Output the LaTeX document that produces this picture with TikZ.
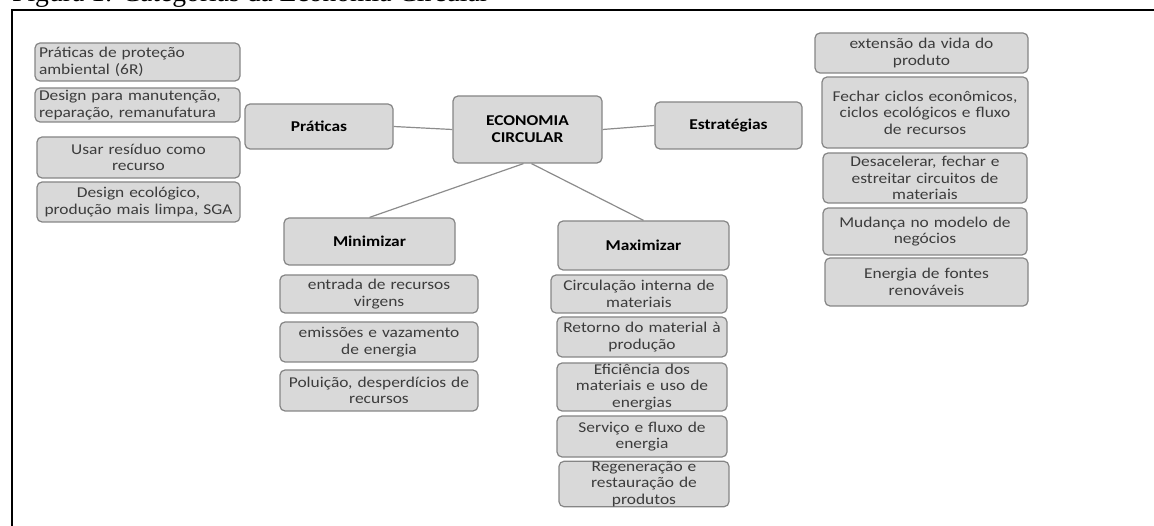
\documentclass[tikz,border=0pt]{standalone}
\usepackage{fontspec}
\setmainfont{Carlito}[FakeStretch=1.16]
\newfontfamily\capfont{Liberation Serif}
\definecolor{boxfill}{HTML}{D9D9D9}
\definecolor{boxline}{HTML}{858585}
\definecolor{linkgray}{HTML}{8C8C8C}
\definecolor{txtgray}{HTML}{3C3C3C}
\tikzset{
  cbox/.style={draw=boxline, fill=boxfill, rounded corners=5pt, line width=1.2pt, inner sep=0pt, align=center, text=txtgray, font=\fontsize{15}{16.5}\selectfont},
  hbox/.style={cbox, text=black, font=\bfseries\fontsize{15}{17}\selectfont},
  link/.style={draw=linkgray, line width=1.2pt},
}
\begin{document}
\begin{tikzpicture}[x=1pt,y=-1pt]
\useasboundingbox (0,0) rectangle (1154,526);
%caption, cut at the top
\node[anchor=base west, inner sep=0pt, font=\capfont\fontsize{27.6}{30}\selectfont] (cap) at (12,1.5) {Figura 1: Categorias da Economia Circular};
\draw[line width=2pt] (12,526) -- (12,10.5) -- (1154,10.5);

%centre and branches
\node[hbox, minimum width=149pt, minimum height=67pt] (ec) at (527.5,129.5) {ECONOMIA\\CIRCULAR};
\node[hbox, minimum width=148pt, minimum height=45pt] (prat) at (319,126.5) {Práticas};
\node[hbox, minimum width=147pt, minimum height=47pt] (estr) at (728.5,125.5) {Estratégias};
\node[hbox, minimum width=171pt, minimum height=47pt] (mini) at (369.5,241.5) {Minimizar};
\node[hbox, minimum width=171pt, minimum height=49pt] (maxi) at (643.5,245.5) {Maximizar};

%Práticas
\node[cbox, minimum width=205pt, minimum height=38pt, text width=197pt, align=left] (pr1) at (137.5,62) {Práticas de proteção\\ambiental (6R)};
\node[cbox, minimum width=205pt, minimum height=34pt, text width=197pt, align=left] (pr2) at (137.5,105) {Design para manutenção,\\reparação, remanufatura};
\node[cbox, minimum width=203pt, minimum height=41pt, text width=195pt] (pr3) at (138.5,157.5) {Usar resíduo como\\recurso};
\node[cbox, minimum width=203pt, minimum height=40pt, text width=195pt] (pr4) at (138.5,202) {Design ecológico,\\produção mais limpa, SGA};

%Estratégias
\node[cbox, minimum width=213pt, minimum height=40pt, text width=205pt] (es1) at (921.5,53) {extensão da vida do\\produto};
\node[cbox, minimum width=206pt, minimum height=71pt, text width=198pt] (es2) at (925,112.5) {Fechar ciclos econômicos,\\ciclos ecológicos e fluxo\\de recursos};
\node[cbox, minimum width=204pt, minimum height=50pt, text width=196pt] (es3) at (925,178) {Desacelerar, fechar e\\estreitar circuitos de\\materiais};
\node[cbox, minimum width=204pt, minimum height=47pt, text width=196pt] (es4) at (925,231.5) {Mudança no modelo de\\negócios};
\node[cbox, minimum width=203pt, minimum height=48pt, text width=195pt] (es5) at (926.5,282) {Energia de fontes\\renováveis};

%Minimizar
\node[cbox, minimum width=198pt, minimum height=38pt, text width=190pt] (mi1) at (379,294) {entrada de recursos\\virgens};
\node[cbox, minimum width=198pt, minimum height=40pt, text width=190pt] (mi2) at (379,342) {emissões e vazamento\\de energia};
\node[cbox, minimum width=198pt, minimum height=41pt, text width=190pt] (mi3) at (379,390.5) {Poluição, desperdícios de\\recursos};

%Maximizar
\node[cbox, minimum width=176pt, minimum height=38pt, text width=168pt] (ma1) at (639,294) {Circulação interna de\\materiais};
\node[cbox, minimum width=170pt, minimum height=40pt, text width=162pt] (ma2) at (642,337) {Retorno do material à\\produção};
\node[cbox, minimum width=170pt, minimum height=48pt, text width=162pt] (ma3) at (642,387) {Eficiência dos\\materiais e uso de\\energias};
\node[cbox, minimum width=170pt, minimum height=41pt, text width=162pt] (ma4) at (642,436.5) {Serviço e fluxo de\\energia};
\node[cbox, minimum width=170pt, minimum height=44pt, text width=162pt] (ma5) at (644,484) {Regeneração e\\restauração de\\produtos};

\draw[link] (prat.east) -- (ec.west);
\draw[link] (ec.east) -- (estr.west);
\draw[link] ([xshift=-4pt]ec.south) -- (mini.north);
\draw[link] ([xshift=4pt]ec.south) -- (maxi.north);

\end{tikzpicture}
\end{document}
